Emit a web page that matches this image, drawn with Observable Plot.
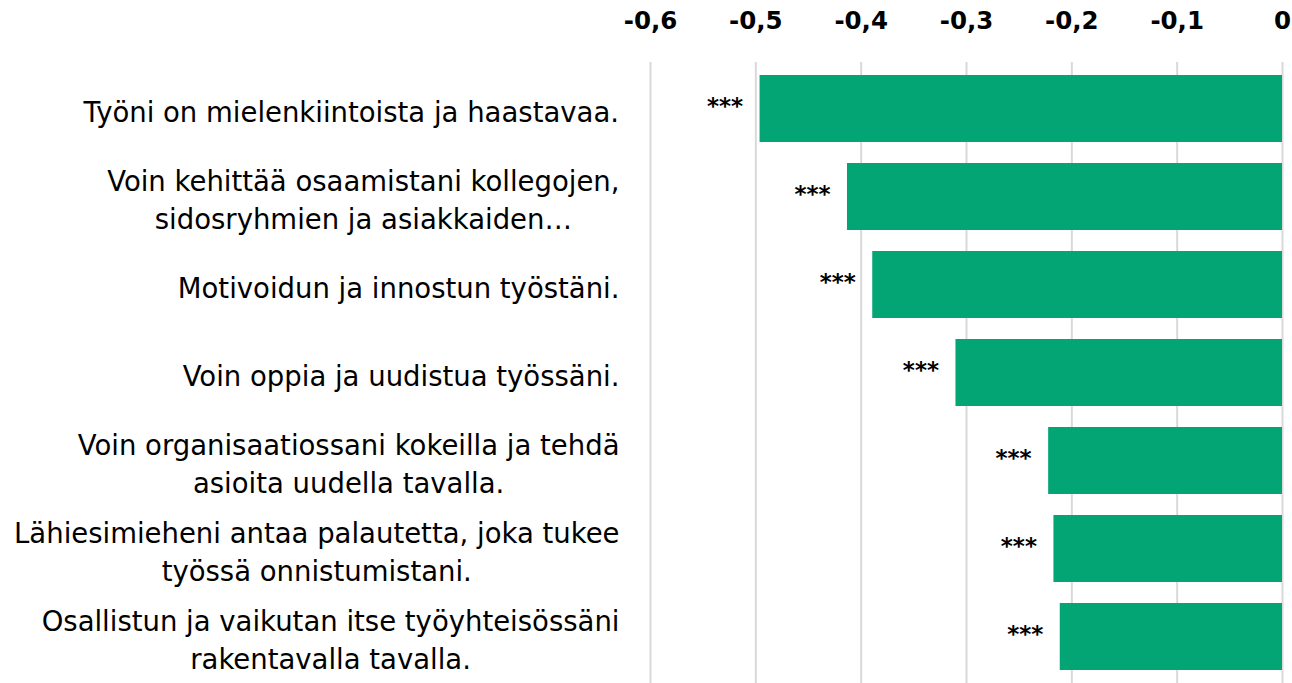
<!DOCTYPE html>
<html><head><meta charset="utf-8">
<script src="https://cdn.jsdelivr.net/npm/d3@7"></script>
<script src="https://cdn.jsdelivr.net/npm/@observablehq/plot@0.6"></script>
<style>html,body{margin:0;padding:0;background:#fff;overflow:hidden}</style>
</head><body><div id="chart"></div>
<script>
const categories = [
  "Työni on mielenkiintoista ja haastavaa.",
  "Voin kehittää osaamistani kollegojen,\nsidosryhmien ja asiakkaiden…",
  "Motivoidun ja innostun työstäni.",
  "Voin oppia ja uudistua työssäni.",
  "Voin organisaatiossani kokeilla ja tehdä\nasioita uudella tavalla.",
  "Lähiesimieheni antaa palautetta, joka tukee\ntyössä onnistumistani.",
  "Osallistun ja vaikutan itse työyhteisössäni\nrakentavalla tavalla."
];
const values = [-0.496, -0.413, -0.389, -0.310, -0.222, -0.217, -0.211];
const significance = ["***", "***", "***", "***", "***", "***", "***"];
const xTicks = [-0.6, -0.5, -0.4, -0.3, -0.2, -0.1, 0];

const data = categories.map((c, i) => ({category: c, value: values[i], sig: significance[i]}));
const locale = d3.formatLocale({decimal: ",", thousands: " ", grouping: [3], currency: ["", " €"], minus: "-"});
const fmt = locale.format("");
const font = "'DejaVu Sans', sans-serif";

const chart = Plot.plot({
  width: 1292, height: 683,
  marginTop: 62, marginLeft: 650, marginRight: 10, marginBottom: 0,
  style: {fontFamily: font, background: "#fff", color: "#000"},
  x: {domain: [-0.6, 0], axis: null},
  y: {domain: categories, paddingInner: 0.235, paddingOuter: 0.1175, axis: null},
  marks: [
    Plot.gridX(xTicks, {stroke: "#d9d9d9", strokeOpacity: 1, strokeWidth: 2}),
    Plot.barX(data, {x: "value", y: "category", fill: "#02a573"}),
    Plot.text(data, {x: "value", y: "category", text: "sig", textAnchor: "end", dx: -17, dy: -2, fontSize: 23, fontWeight: 700, fill: "#000"}),
    Plot.axisX(xTicks, {anchor: "top", label: null, tickSize: 0, tickPadding: 34, tickFormat: fmt, fontSize: 24.5, fontWeight: 700, fill: "#000"}),
    Plot.axisY({anchor: "left", label: null, tickSize: 0, tickPadding: 31, fontSize: 27.5, lineHeight: 1.39, dy: 1, fill: "#000"})
  ]
});
document.getElementById("chart").appendChild(chart);

// Excel-style: multi-line label blocks right-aligned, lines centred within block
chart.querySelectorAll('[aria-label="y-axis tick label"] text').forEach(t => {
  const w = t.getBBox().width;
  t.setAttribute("text-anchor", "middle");
  t.setAttribute("transform", (t.getAttribute("transform") || "") + ` translate(${-w / 2},0)`);
});
</script>
</body></html>
